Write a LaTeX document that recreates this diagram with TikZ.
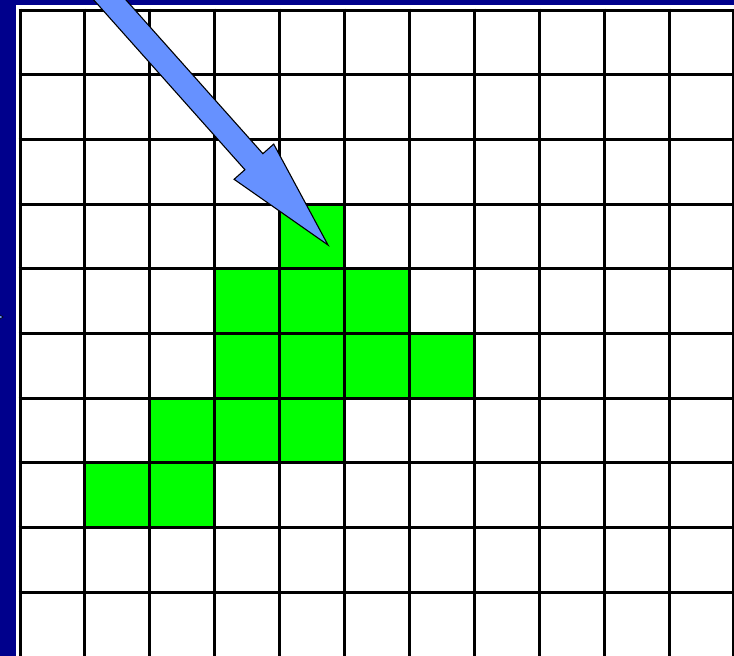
\documentclass[tikz,border=0pt]{standalone}
\definecolor{navy}{RGB}{0,0,140}
\definecolor{cellgreen}{RGB}{0,255,0}
\definecolor{arrowblue}{RGB}{102,145,255}
\tikzset{
  gridline/.style={black,line width=3pt},
  greencell/.style={fill=cellgreen},
  bigarrow/.style={fill=arrowblue,draw=black,line width=1.1pt,line join=miter}
}
\begin{document}
\begin{tikzpicture}[x=1pt,y=-1pt]
\useasboundingbox (0,0) rectangle (734,656);
\begin{scope}
\clip (0,0) rectangle (734,656);
\fill[navy] (0,0) rectangle (734,656);
\fill[white] (16,5) rectangle (740,660);
% green cells (col,row)
\foreach \c/\r in {4/3, 3/4,4/4,5/4, 3/5,4/5,5/5,6/5, 2/6,3/6,4/6, 1/7,2/7}{
  \fill[greencell] ({20+64.9*\c},{10+64.7*\r}) rectangle ({20+64.9*(\c+1)},{10+64.7*(\r+1)});
}
% grid
\foreach \i in {0,...,11}{
  \draw[gridline] ({20+64.9*\i},8.5) -- ({20+64.9*\i},670);
}
\foreach \j in {0,...,10}{
  \draw[gridline] (18.5,{10+64.7*\j}) -- (740,{10+64.7*\j});
}
% big arrow
\coordinate (tip) at (328,245);
\draw[bigarrow] (53,-45.8) -- (244.9,169.7) -- (234.1,179.3) -- (tip)
  -- (273.7,144.1) -- (262.9,153.7) -- (71,-61.8) -- cycle;
% small cut-off arrow tip at left edge
\coordinate (smalltip) at (3,317);
\draw[bigarrow,line width=0.6pt] (-6,311) -- (smalltip) -- (-6,323) -- cycle;
\end{scope}
\end{tikzpicture}
\end{document}
